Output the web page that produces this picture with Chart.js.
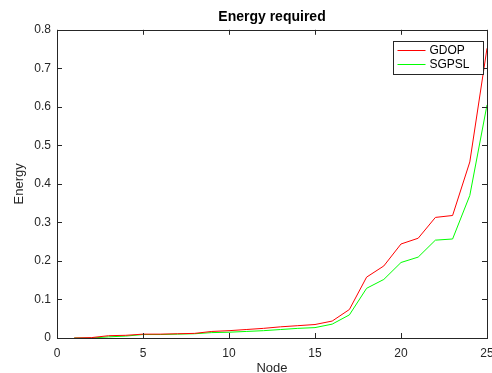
<!DOCTYPE html>
<html>
<head>
<meta charset="utf-8">
<script src="https://cdn.jsdelivr.net/npm/chart.js@4"></script>
<style>
  html, body { margin: 0; padding: 0; background: #fff; }
  #wrap { width: 492px; height: 373px; position: relative; }
</style>
</head>
<body>
<div id="wrap"><canvas id="myChart" width="492" height="373"></canvas></div>
<script>
const nodes = [1, 2, 3, 4, 5, 6, 7, 8, 9, 10, 11, 12, 13, 14, 15, 16, 17, 18, 19, 20, 21, 22, 23, 24, 25];
const gdop = [0, 0.001, 0.006, 0.007, 0.010, 0.010, 0.011, 0.012, 0.017, 0.019, 0.022, 0.025, 0.029, 0.032, 0.035, 0.044, 0.074, 0.158, 0.187, 0.244, 0.259, 0.313, 0.318, 0.457, 0.752];
const sgpsl = [0, 0, 0.003, 0.005, 0.009, 0.009, 0.010, 0.011, 0.014, 0.015, 0.017, 0.019, 0.022, 0.025, 0.027, 0.036, 0.060, 0.129, 0.152, 0.196, 0.210, 0.254, 0.257, 0.370, 0.605];
const xTicks = [0, 5, 10, 15, 20, 25];
const yTicks = [0, 0.1, 0.2, 0.3, 0.4, 0.5, 0.6, 0.7, 0.8];

const AXIS_COLOR = "#262626";
const FONT = "'Liberation Sans', Arial, sans-serif";

// MATLAB style box with inward ticks on all four sides
const boxPlugin = {
  id: "box",
  afterDraw(chart) {
    const { ctx, chartArea: a, scales } = chart;
    ctx.save();
    ctx.strokeStyle = AXIS_COLOR;
    ctx.lineWidth = 1;
    ctx.strokeRect(Math.round(a.left) + 0.5, Math.round(a.top) + 0.5,
      Math.round(a.right - a.left), Math.round(a.bottom - a.top));
    const len = 5;
    ctx.beginPath();
    xTicks.forEach((v) => {
      const px = Math.round(scales.x.getPixelForValue(v)) + 0.5;
      ctx.moveTo(px, a.bottom);
      ctx.lineTo(px, a.bottom - len);
      ctx.moveTo(px, a.top);
      ctx.lineTo(px, a.top + len);
    });
    yTicks.forEach((v) => {
      const py = Math.round(scales.y.getPixelForValue(v)) + 0.5;
      ctx.moveTo(a.left, py);
      ctx.lineTo(a.left + len, py);
      ctx.moveTo(a.right, py);
      ctx.lineTo(a.right - len, py);
    });
    ctx.stroke();
    ctx.restore();
  },
};

// legend box in the upper right of the plot
const legendPlugin = {
  id: "boxLegend",
  afterDraw(chart) {
    const { ctx, chartArea: a } = chart;
    const w = 90, h = 33;
    const x0 = Math.round(a.right - 94) + 0.5;
    const y0 = Math.round(a.top + 11) + 0.5;
    ctx.save();
    ctx.fillStyle = "#fff";
    ctx.fillRect(x0, y0, w, h);
    ctx.strokeStyle = AXIS_COLOR;
    ctx.lineWidth = 1;
    ctx.strokeRect(x0, y0, w, h);
    ctx.font = "12px " + FONT;
    ctx.textBaseline = "middle";
    chart.data.datasets.forEach((ds, i) => {
      const ly = y0 + 9 + i * 14;
      ctx.strokeStyle = ds.borderColor;
      ctx.beginPath();
      ctx.moveTo(x0 + 4, ly);
      ctx.lineTo(x0 + 32, ly);
      ctx.stroke();
      ctx.fillStyle = "#000";
      ctx.fillText(ds.label, x0 + 36, ly);
    });
    ctx.restore();
  },
};

const ctx = document.getElementById("myChart").getContext("2d");
new Chart(ctx, {
  type: "line",
  data: {
    labels: nodes,
    datasets: [
      { label: "GDOP", data: nodes.map((n, i) => ({ x: n, y: gdop[i] })), borderColor: "rgb(255,0,0)" },
      { label: "SGPSL", data: nodes.map((n, i) => ({ x: n, y: sgpsl[i] })), borderColor: "rgb(0,255,0)" },
    ],
  },
  options: {
    responsive: false,
    animation: false,
    layout: { padding: { left: 0, right: 5, top: 0, bottom: 0 } },
    elements: {
      line: { borderWidth: 1, tension: 0, fill: false },
      point: { radius: 0 },
    },
    plugins: {
      legend: { display: false },
      tooltip: { enabled: false },
      title: {
        display: true,
        text: "Energy required",
        fullSize: false,
        color: "#000",
        font: { family: FONT, size: 14, weight: "bold" },
        padding: { top: 9, bottom: 4 },
      },
    },
    scales: {
      x: {
        type: "linear",
        min: 0,
        max: 25,
        afterBuildTicks: (s) => { s.ticks = xTicks.map((v) => ({ value: v })); },
        afterFit: (s) => { s.height = 35; s.paddingLeft = 0; s.paddingRight = 0; },
        grid: { display: false, drawTicks: false },
        border: { display: false },
        ticks: { color: AXIS_COLOR, padding: 8, maxRotation: 0, font: { family: FONT, size: 12 } },
        title: { display: true, text: "Node", color: AXIS_COLOR, font: { family: FONT, size: 13, lineHeight: 0.75 }, padding: { top: 0, bottom: 0 } },
      },
      y: {
        min: 0,
        max: 0.8,
        afterBuildTicks: (s) => { s.ticks = yTicks.map((v) => ({ value: v })); },
        afterFit: (s) => { s.width = 57; s.paddingTop = 0; s.paddingBottom = 0; },
        grid: { display: false, drawTicks: false },
        border: { display: false },
        ticks: { color: AXIS_COLOR, padding: 6, font: { family: FONT, size: 12 }, callback: (v) => String(Math.round(v * 10) / 10) },
        title: { display: true, text: "Energy", color: AXIS_COLOR, font: { family: FONT, size: 13 }, padding: { top: 12, bottom: 0 } },
      },
    },
  },
  plugins: [boxPlugin, legendPlugin],
});
</script>
</body>
</html>
